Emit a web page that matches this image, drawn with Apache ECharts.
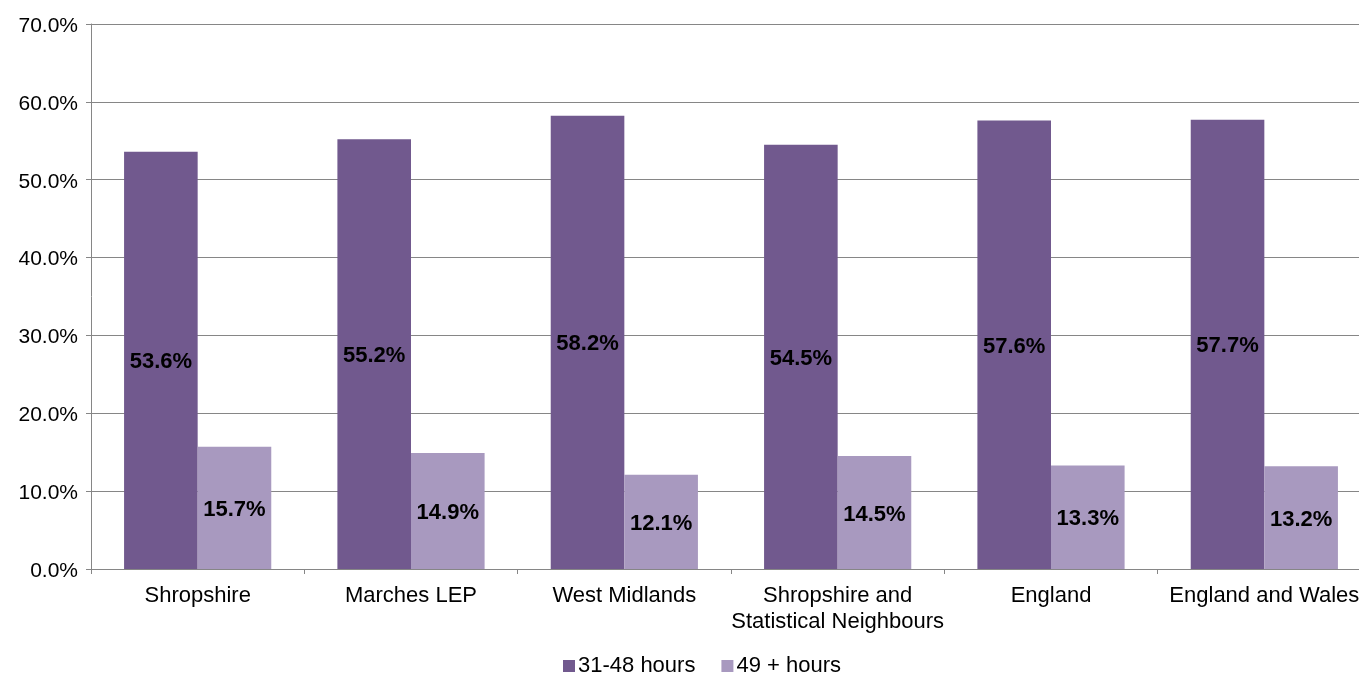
<!DOCTYPE html>
<html>
<head>
<meta charset="utf-8">
<style>
  html, body { margin: 0; padding: 0; background: #ffffff; overflow: hidden; }
  /* the plot runs a few pixels past the right edge of the window */
  #chart { width: 1372px; height: 673px; }
</style>
<script src="https://cdn.jsdelivr.net/npm/echarts@6/dist/echarts.min.js"></script>
</head>
<body>
<div id="chart"></div>
<script>
// Share of workers by weekly hours worked, per area
const categories = [
  'Shropshire',
  'Marches LEP',
  'West Midlands',
  'Shropshire and\nStatistical Neighbours',
  'England',
  'England and Wales'
];
const seriesNames = ['31-48 hours', '49 + hours'];
const hours31to48 = [53.6, 55.2, 58.2, 54.5, 57.6, 57.7];
const hours49plus = [15.7, 14.9, 12.1, 14.5, 13.3, 13.2];
const seriesColors = ['#71598E', '#A899BF'];

const font = 'Liberation Sans, Arial, sans-serif';
const axisGrey = '#868686';

const chart = echarts.init(document.getElementById('chart'), null, { renderer: 'canvas' });

function barSeries(name, values, color) {
  return {
    name: name,
    type: 'bar',
    data: values,
    barGap: '0%',
    barCategoryGap: '31%',
    itemStyle: { color: color },
    label: {
      show: true,
      position: 'inside',
      offset: [0, 2],
      formatter: p => p.value.toFixed(1) + '%',
      color: '#000000',
      fontFamily: font,
      fontWeight: 'bold',
      fontSize: 22
    }
  };
}

chart.setOption({
  animation: false,
  backgroundColor: '#ffffff',
  grid: { left: 91, right: 1, top: 24, bottom: 104, containLabel: false },
  legend: {
    data: seriesNames,
    top: 650,
    left: 558,
    itemWidth: 12,
    itemHeight: 12,
    itemGap: 26,
    icon: 'rect',
    textStyle: { fontFamily: font, fontSize: 22, color: '#000000', padding: [0, 0, 0, -2] }
  },
  xAxis: {
    type: 'category',
    data: categories,
    axisLine: { show: true, lineStyle: { color: axisGrey, width: 1 } },
    axisTick: { show: true, alignWithLabel: false, length: 5, lineStyle: { color: axisGrey } },
    axisLabel: {
      interval: 0,
      margin: 14,
      fontFamily: font,
      fontSize: 22,
      color: '#000000',
      lineHeight: 26
    }
  },
  yAxis: {
    type: 'value',
    min: 0,
    max: 70,
    interval: 10,
    axisLine: { show: true, lineStyle: { color: axisGrey, width: 1 } },
    axisTick: { show: true, length: 5, lineStyle: { color: axisGrey } },
    splitLine: { show: true, lineStyle: { color: axisGrey, width: 1 } },
    axisLabel: {
      formatter: v => '{v|' + v.toFixed(1) + '%}',
      margin: 13,
      color: '#000000',
      rich: {
        v: {
          fontFamily: font,
          fontSize: 21,
          color: '#000000',
          padding: [4, 0, 0, 0]
        }
      }
    }
  },
  series: [
    barSeries(seriesNames[0], hours31to48, seriesColors[0]),
    barSeries(seriesNames[1], hours49plus, seriesColors[1])
  ]
});
</script>
</body>
</html>
